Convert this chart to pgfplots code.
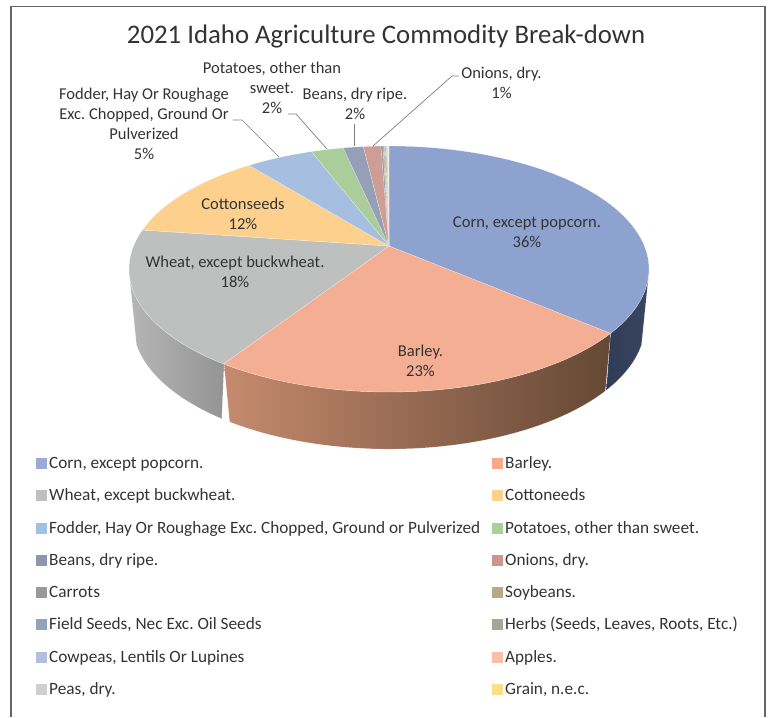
\documentclass[border=0pt]{standalone}
\usepackage{pgfplots}
\pgfplotsset{compat=1.18}
\usepackage{fontspec}
\setmainfont{Carlito}
\frenchspacing

\definecolor{cornC}{HTML}{8EA2CF}
\definecolor{barleyC}{HTML}{F4AE93}
\definecolor{wheatC}{HTML}{BEC0BF}
\definecolor{cottonC}{HTML}{FDD18D}
\definecolor{fodderC}{HTML}{A6BFE0}
\definecolor{potatoC}{HTML}{ABCD9A}
\definecolor{beansC}{HTML}{969FB8}
\definecolor{onionC}{HTML}{CE9E96}
\definecolor{carrotC}{HTML}{999999}
\definecolor{soyC}{HTML}{B8A888}
\definecolor{fieldC}{HTML}{92A4B8}
\definecolor{herbC}{HTML}{A0A896}
\definecolor{cowpeaC}{HTML}{B4BEDC}
\definecolor{appleC}{HTML}{F9BFA6}
\definecolor{peaC}{HTML}{CFCFCF}
\definecolor{grainC}{HTML}{FDDD87}
\definecolor{keyCorn}{HTML}{9DAAD6}
\definecolor{keyBarley}{HTML}{F8A98A}
\definecolor{keyFodder}{HTML}{9FC1E3}
\definecolor{keyPotato}{HTML}{A6D293}
\definecolor{keyBeans}{HTML}{8E96AD}
\definecolor{keyOnion}{HTML}{CB9590}
\definecolor{txt}{HTML}{333333}
\definecolor{leader}{HTML}{7F7F7F}
\definecolor{rimCornL}{HTML}{303B54}
\definecolor{rimCornR}{HTML}{3A4660}
\definecolor{rimBarleyL}{HTML}{C58A6E}
\definecolor{rimBarleyR}{HTML}{654834}
\definecolor{rimWheatL}{HTML}{B6B6B6}
\definecolor{rimWheatR}{HTML}{949494}

% One slice of the pie's top face, from cumulative percent #1 to #2
\newcommand{\slice}[3]{%
  \addplot[fill=#3, draw=white, draw opacity=0.45, line width=0.4bp,
           domain={3.6*#1}:{3.6*#2}, samples=60, variable=\u]
    ({topx(\u)},{topy(\u)}) -- (axis cs:389,246) -- cycle;
}
% One stretch of the rim: top edge from #1 to #2 degrees, lower edge from #3 to #4 degrees
\newcommand{\rim}[6]{%
  \addplot[draw=white, draw opacity=0.3, line width=0.4bp, left color=#5, right color=#6,
           domain=0:2, samples=121, variable=\t]
    ({\t<=1 ? topx(#1+(#2-#1)*\t) : lowx(#3+(#4-#3)*(\t-1))},
     {\t<=1 ? topy(#1+(#2-#1)*\t) : lowy(#3+(#4-#3)*(\t-1))}) -- cycle;
}
\newcommand{\key}[4]{%
  \addplot[only marks, mark=square*, mark size=4.7bp, color=#3]
    coordinates {(#1,#2)};
  \node[anchor=base west, inner sep=0pt, font=\keyfont, text=txt] at (axis cs:{#1+8},{#2+5}) {#4};
}
\newcommand{\keyfont}{\fontsize{17.3}{20}\selectfont}
\newcommand{\lblfont}{\fontsize{16.6}{20}\selectfont}
\tikzset{lbl/.style={anchor=center, align=center, font=\lblfont, text=txt}}

\begin{document}
\begin{tikzpicture}
\begin{axis}[
  name=ax, width=768bp, height=717bp, scale only axis,
  xmin=0, xmax=768, ymin=0, ymax=717, y dir=reverse,
  hide axis, clip=false,
  declare function={
    topx(\u)=389+255.4*sin(\u)/(1+0.187*cos(\u));
    topy(\u)=246-118.7*cos(\u)/(1+0.187*cos(\u));
    lowx(\u)=389+251.5*sin(\u)/(1+0.187*cos(\u));
    lowy(\u)=300.7-120.6*cos(\u)/(1+0.187*cos(\u));
  },
]
% Outer frame, open at the foot of the page
\addplot[color=black!60, line width=1.5bp] coordinates {(11,717) (11,6.5) (765,6.5) (765,717)};

% Rim of the pie
\rim{104.9}{130.3}{131}{110}{rimCornL}{rimCornR}
\rim{130.3}{213}{213.6}{131}{rimBarleyL}{rimBarleyR}
\rim{255.1}{213}{213.6}{250}{rimWheatL}{rimWheatR}

% Top face; arguments are the running totals of the shares in percent
\slice{0}{36.2}{cornC}
\slice{36.2}{59.2}{barleyC}
\slice{59.2}{77.2}{wheatC}
\slice{77.2}{89.2}{cottonC}
\slice{89.2}{94.2}{fodderC}
\slice{94.2}{96.6}{potatoC}
\slice{96.6}{98.1}{beansC}
\slice{98.1}{99.4}{onionC}
\slice{99.4}{99.55}{carrotC}
\slice{99.55}{99.65}{soyC}
\slice{99.65}{99.73}{fieldC}
\slice{99.73}{99.81}{herbC}
\slice{99.81}{99.88}{cowpeaC}
\slice{99.88}{99.93}{appleC}
\slice{99.93}{99.97}{peaC}
\slice{99.97}{100}{grainC}

% Leader lines
\addplot[color=leader, line width=0.7bp] coordinates {(233,120) (242,120) (279,157)};
\addplot[color=leader, line width=0.7bp] coordinates {(288,114) (296,114) (327,149)};
\addplot[color=leader, line width=0.7bp] coordinates {(354,124) (354,146.5)};
\addplot[color=leader, line width=0.7bp] coordinates {(459,76) (452,76) (373,146)};

% Title and slice labels
\node[anchor=center, font=\fontsize{26.9}{30}\selectfont, text=txt] at (axis cs:386,36.5) {2021 Idaho Agriculture Commodity Break-down};
\node[lbl] at (axis cs:527,232) {Corn, except popcorn.\\36\%};
\node[lbl] at (axis cs:420.5,361) {Barley.\\23\%};
\node[lbl] at (axis cs:235,272) {Wheat, except buckwheat.\\18\%};
\node[lbl] at (axis cs:243,214) {Cottonseeds\\12\%};
\node[lbl] at (axis cs:144,124) {Fodder, Hay Or Roughage\\Exc. Chopped, Ground Or\\Pulverized\\5\%};
\node[lbl] at (axis cs:272,88) {Potatoes, other than\\sweet.\\2\%};
\node[lbl] at (axis cs:355,104) {Beans, dry ripe.\\2\%};
\node[lbl] at (axis cs:501.5,83) {Onions, dry.\\1\%};

% Key, two columns
\key{41}{463}{keyCorn}{Corn, except popcorn.}
\key{497}{463}{keyBarley}{Barley.}
\key{41}{495}{wheatC}{Wheat, except buckwheat.}
\key{497}{495}{cottonC}{Cottoneeds}
\key{41}{528}{keyFodder}{Fodder, Hay Or Roughage Exc. Chopped, Ground or Pulverized}
\key{497}{528}{keyPotato}{Potatoes, other than sweet.}
\key{41}{560}{keyBeans}{Beans, dry ripe.}
\key{497}{560}{keyOnion}{Onions, dry.}
\key{41}{592}{carrotC}{Carrots}
\key{497}{592}{soyC}{Soybeans.}
\key{41}{624}{fieldC}{Field Seeds, Nec Exc. Oil Seeds}
\key{497}{624}{herbC}{Herbs (Seeds, Leaves, Roots, Etc.)}
\key{41}{657}{cowpeaC}{Cowpeas, Lentils Or Lupines}
\key{497}{657}{appleC}{Apples.}
\key{41}{689}{peaC}{Peas, dry.}
\key{497}{689}{grainC}{Grain, n.e.c.}
\end{axis}
\path[use as bounding box] (ax.south west) rectangle (ax.north east);
\end{tikzpicture}
\end{document}
